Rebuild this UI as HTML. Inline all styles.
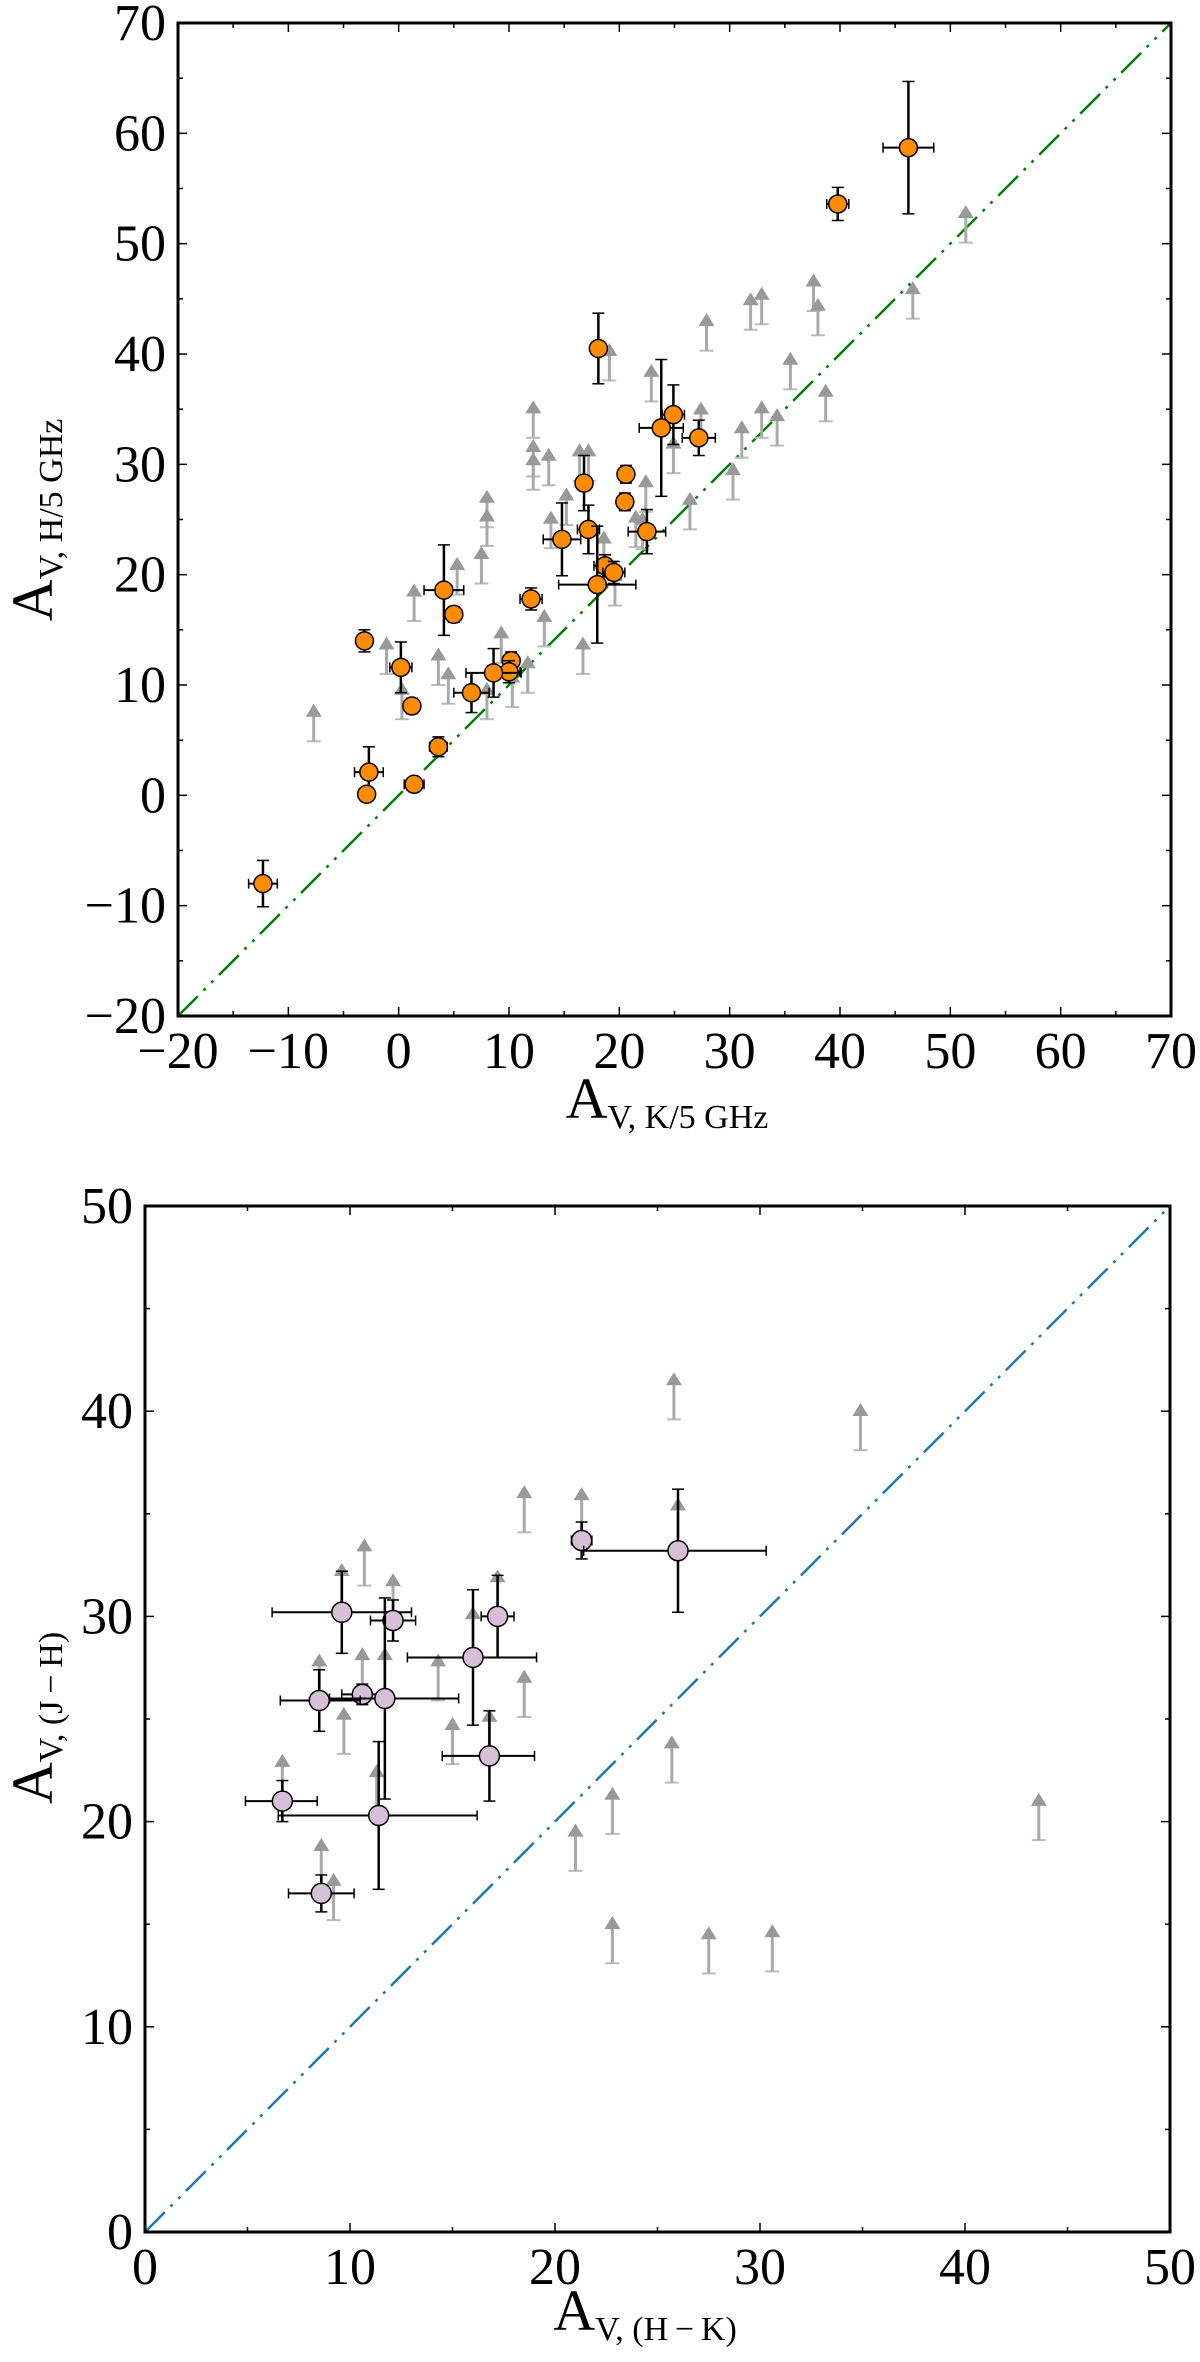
<!DOCTYPE html>
<html><head><meta charset="utf-8">
<style>
html,body{margin:0;padding:0;background:#fff;}
svg{display:block;}
text{font-family:"Liberation Serif","DejaVu Serif",serif;fill:#000;}
</style></head>
<body>
<svg id="fig" width="1200" height="2362" viewBox="0 0 1200 2362" xmlns="http://www.w3.org/2000/svg">
<g id="p1"></g>
<g id="p2"></g>
</svg>
<script>
// ---- Top panel data ----
const topX=[46.2,39.8,18.1,24.9,23.8,27.2,20.6,16.8,20.5,17.2,22.5,14.8,18.7,19.5,18.0,4.1,5.0,12.0,-3.1,0.2,10.2,10.0,8.6,6.6,1.2,3.6,-2.7,-2.9,1.4,-12.3];
const topY=[58.7,53.6,40.5,34.5,33.3,32.4,29.1,28.3,26.6,24.1,23.9,23.2,20.8,20.2,19.1,18.6,16.4,17.8,14.0,11.6,12.2,11.2,11.1,9.3,8.1,4.4,2.1,0.1,1.0,-8.0];
const topXerr=[2.3,1,0.5,1,2,1.5,0.6,0.7,0.6,1,1.7,1.7,1,1,3.5,1.8,0.6,1,0.7,1,0.6,1,2.5,1.6,0.6,0.8,1.3,0.4,0.9,1.3];
const topYerr=[6,1.5,3.2,2.7,6.2,1.6,0.8,2.5,0.8,2.2,2,3.3,1,1,5.3,4.1,0.7,1,1,2.3,0.8,1,2.2,1.8,0.7,0.9,2.3,0.4,0.5,2.1];
const topLimX=[51.4,46.6,37.6,38.0,32.9,31.9,27.9,19.1,22.9,35.5,38.7,12.2,27.4,32.9,34.3,31.1,24.9,12.2,12.2,13.6,16.4,17.2,30.3,26.4,22.4,21.5,8.0,8.0,13.8,15.2,18.6,7.5,5.3,1.4,13.2,16.7,9.3,-1.1,3.6,4.5,0.3,8.0,10.3,11.7,-7.7,19.6,22.1];
const topLimY=[50.1,43.2,43.9,41.7,42.7,42.2,40.3,37.6,35.7,36.8,33.9,32.4,32.3,32.4,31.7,30.6,29.2,28.9,27.7,28.1,28.5,28.5,26.8,24.1,25.7,22.5,24.3,22.6,22.4,24.5,20.6,19.2,18.2,15.8,13.5,11.0,12.0,11.0,10.0,8.3,6.9,6.9,8.0,9.3,4.9,17.2,22.3];
const topTicks=[-20,-10,0,10,20,30,40,50,60,70];
const topTickLabels=["\u221220","\u221210","0","10","20","30","40","50","60","70"];
// ---- Bottom panel data ----
const botX=[21.3,26.0,9.6,12.1,17.2,16.0,10.6,8.5,11.7,16.8,6.7,11.4,8.6];
const botY=[33.7,33.2,30.2,29.8,30.0,28.0,26.2,25.9,26.0,23.2,21.0,20.3,16.5];
const botXlo=[20.8,21.4,6.2,11.0,16.4,12.8,9.6,6.6,9.0,14.5,4.9,6.5,7.0];
const botXhi=[21.8,30.3,13.0,13.2,18.0,19.1,11.6,10.5,15.3,19.0,8.4,16.2,10.2];
const botYerr=[0.9,3.0,2.0,1.0,2.0,3.3,0.5,1.5,4.9,2.2,1.0,3.6,0.9];
const botLimX=[25.8,34.9,18.5,21.3,26.0,10.7,9.6,12.1,17.2,16.0,14.3,8.5,10.6,11.7,18.5,9.7,15.0,16.8,25.7,6.7,11.3,22.8,21.0,43.6,8.6,9.2,22.8,27.5,30.6];
const botLimY=[39.6,38.1,34.1,34.0,33.5,31.5,30.3,29.8,30.0,28.2,25.9,25.9,26.2,26.2,25.1,23.3,22.8,23.2,21.9,21.0,20.5,19.4,17.6,19.1,16.9,15.2,13.1,12.6,12.7];
const botTicks=[0,10,20,30,40,50];
const botTickLabels=["0","10","20","30","40","50"];

const NS="http://www.w3.org/2000/svg";
function mk(parent,tag,attrs){const e=document.createElementNS(NS,tag);for(const k in attrs)e.setAttribute(k,attrs[k]);parent.appendChild(e);return e;}

function panel(g,cfg){
  const sx=v=>cfg.L+(v-cfg.min)/(cfg.max-cfg.min)*(cfg.R-cfg.L);
  const sy=v=>cfg.B-(v-cfg.min)/(cfg.max-cfg.min)*(cfg.B-cfg.T);
  const d=mk(g,'line',{x1:sx(cfg.min),y1:sy(cfg.min),x2:sx(cfg.max),y2:sy(cfg.max),stroke:cfg.lineColor,'stroke-width':2.5,'stroke-dasharray':'28,8,3,8,3,8'});
  
  
  for(let i=0;i<cfg.limX.length;i++){
    const x=sx(cfg.limX[i]),y0=sy(cfg.limY[i]),y1=sy(cfg.limY[i]+cfg.arrowLen);
    const a=mk(g,'g',{});
    
    
    mk(a,'line',{x1:x-7,y1:y0,x2:x+7,y2:y0,stroke:'#bbb','stroke-width':2});
    mk(a,'line',{x1:x,y1:y0,x2:x,y2:y1+10,stroke:'#aaa','stroke-width':3});
    mk(a,'polygon',{points:`${x-8},${y1+13} ${x+8},${y1+13} ${x},${y1}`,fill:'#999'});
  }
  for(let i=0;i<cfg.px.length;i++){
    const x=sx(cfg.px[i]),y=sy(cfg.py[i]);
    const xl=sx(cfg.xlo[i]),xh=sx(cfg.xhi[i]);
    const yl=sy(cfg.py[i]-cfg.yerr[i]),yh=sy(cfg.py[i]+cfg.yerr[i]);
    const p=mk(g,'g',{});
    
    
    mk(p,'line',{x1:xl,y1:y,x2:xh,y2:y,stroke:'#000','stroke-width':2});
    mk(p,'line',{x1:x,y1:yl,x2:x,y2:yh,stroke:'#000','stroke-width':2.5});
    mk(p,'line',{x1:xl,y1:y-5,x2:xl,y2:y+5,stroke:'#000','stroke-width':1.5});
    mk(p,'line',{x1:xh,y1:y-5,x2:xh,y2:y+5,stroke:'#000','stroke-width':1.5});
    mk(p,'line',{x1:x-6,y1:yl,x2:x+6,y2:yl,stroke:'#000','stroke-width':1.5});
    mk(p,'line',{x1:x-6,y1:yh,x2:x+6,y2:yh,stroke:'#000','stroke-width':1.5});
    mk(p,'circle',{cx:x,cy:y,r:cfg.r,fill:cfg.fill,stroke:'#000','stroke-width':1.5});
  }
  const f=mk(g,'rect',{x:cfg.L,y:cfg.T,width:cfg.R-cfg.L,height:cfg.B-cfg.T,fill:'none',stroke:'#000','stroke-width':3});
  
  
  for(let v=cfg.min;v<=cfg.max;v+=5){
    const major=((v-cfg.min)%10===0), len=major?9:5;
    const x=sx(v),y=sy(v);
    mk(g,'line',{x1:x,y1:cfg.B,x2:x,y2:cfg.B-len,stroke:'#000','stroke-width':1.5});
    mk(g,'line',{x1:x,y1:cfg.T,x2:x,y2:cfg.T+len,stroke:'#000','stroke-width':1.5});
    mk(g,'line',{x1:cfg.L,y1:y,x2:cfg.L+len,y2:y,stroke:'#000','stroke-width':1.5});
    mk(g,'line',{x1:cfg.R,y1:y,x2:cfg.R-len,y2:y,stroke:'#000','stroke-width':1.5});
  }
  cfg.ticks.forEach((v,i)=>{
    const tx=mk(g,'text',{x:sx(v),y:cfg.B+cfg.xLabOff,'text-anchor':'middle','font-size':52});
    tx.textContent=cfg.tickLabels[i];
    
    
    const ty=mk(g,'text',{x:cfg.L-cfg.yLabOff,y:sy(v)+17,'text-anchor':'end','font-size':52});
    ty.textContent=cfg.tickLabels[i];
    
    
  });
}
function axisLabel(g,x,y,sub,rot,name){
  const t=mk(g,'text',{x:x,y:y,'text-anchor':'middle','font-size':58});
  if(rot) t.setAttribute('transform',`rotate(-90 ${x} ${y})`);
  
  
  const a=mk(t,'tspan',{});a.textContent='A';
  const s=mk(t,'tspan',{'font-size':34,dy:10});s.textContent=sub;
}
panel(document.getElementById('p1'),{L:178,R:1171,T:23,B:1016,min:-20,max:70,
  px:topX,py:topY,xlo:topX.map((v,i)=>v-topXerr[i]),xhi:topX.map((v,i)=>v+topXerr[i]),yerr:topYerr,
  limX:topLimX,limY:topLimY,arrowLen:3.4,fill:'#ff8c00',r:9,lineColor:'#008000',
  ticks:topTicks,tickLabels:topTickLabels,xLabOff:52,yLabOff:12});
panel(document.getElementById('p2'),{L:145,R:1170,T:1206,B:2232,min:0,max:50,
  px:botX,py:botY,xlo:botXlo,xhi:botXhi,yerr:botYerr,
  limX:botLimX,limY:botLimY,arrowLen:2.3,fill:'#d8bfd8',r:10,lineColor:'#1f77b4',
  ticks:botTicks,tickLabels:botTickLabels,xLabOff:52,yLabOff:12});
const g1=document.getElementById('p1'),g2=document.getElementById('p2');
axisLabel(g1,667,1118,'V, K/5 GHz',false,'x-axis-title');
axisLabel(g1,52,520,'V, H/5 GHz',true,'y-axis-title');
axisLabel(g2,645,2330,'V, (H\u2009\u2212\u2009K)',false,'x-axis-title');
axisLabel(g2,52,1718,'V, (J\u2009\u2212\u2009H)',true,'y-axis-title');
</script>
</body></html>
